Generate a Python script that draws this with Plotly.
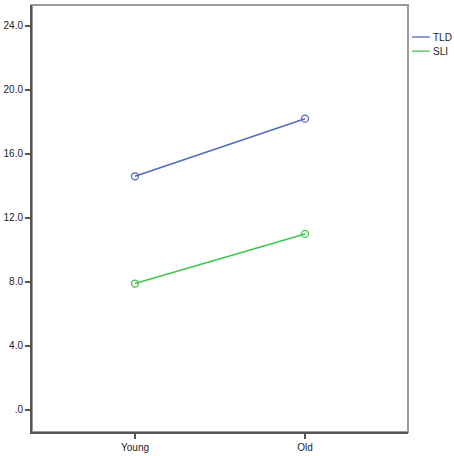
import plotly.graph_objects as go

categories = ["Young", "Old"]
series_names = ["TLD", "SLI"]
tld_values = [14.6, 18.2]
sli_values = [7.9, 11.0]
tick_vals = [0, 4, 8, 12, 16, 20, 24]
tick_text = [".0", "4.0", "8.0", "12.0", "16.0", "20.0", "24.0"]
colors = ["#5468be", "#3ec64a"]

fig = go.Figure()
for name, vals, col in zip(series_names, [tld_values, sli_values], colors):
    fig.add_trace(go.Scatter(
        x=categories, y=vals, name=name, mode="lines+markers",
        line=dict(color=col, width=1.6),
        marker=dict(symbol="circle-open", size=7, color=col, line=dict(width=1.3, color=col)),
        showlegend=False,
    ))

# custom legend in the right margin
for i, (name, col) in enumerate(zip(series_names, colors)):
    yy = 0.925 - i * 0.033
    fig.add_shape(type="line", xref="paper", yref="paper",
                  x0=1.011, x1=1.058, y0=yy, y1=yy, line=dict(color=col, width=1.3))
    fig.add_annotation(xref="paper", yref="paper", x=1.060, y=yy, text=name,
                       showarrow=False, xanchor="left", yanchor="middle",
                       font=dict(family="Arial", size=10, color="#222"))

# top/right frame
fig.add_shape(type="rect", xref="paper", yref="paper", x0=0, x1=1, y0=0, y1=1,
              line=dict(color="#9a9a9a", width=2), layer="below")

fig.update_layout(
    width=454, height=456,
    margin=dict(l=32, r=46, t=5, b=24, autoexpand=False),
    paper_bgcolor="white", plot_bgcolor="white",
    font=dict(family="Arial", size=10, color="#222"),
    xaxis=dict(type="category", range=[-0.606, 1.606], showgrid=False, zeroline=False,
               showline=True, linecolor="#555", linewidth=2,
               ticks="outside", ticklen=5, tickcolor="#555", tickwidth=1.5,
               tickfont=dict(family="Arial", size=10, color="#222")),
    yaxis=dict(range=[-1.375, 25.3], showgrid=False, zeroline=False,
               showline=True, linecolor="#555", linewidth=2,
               tickvals=tick_vals, ticktext=tick_text,
               ticks="outside", ticklen=5, tickcolor="#555", tickwidth=1.5,
               tickfont=dict(family="Arial", size=10, color="#222")),
)

fig.write_html("out.html", config={"displayModeBar": False},
               post_script="document.body.style.margin='0';document.body.style.overflow='hidden';")
